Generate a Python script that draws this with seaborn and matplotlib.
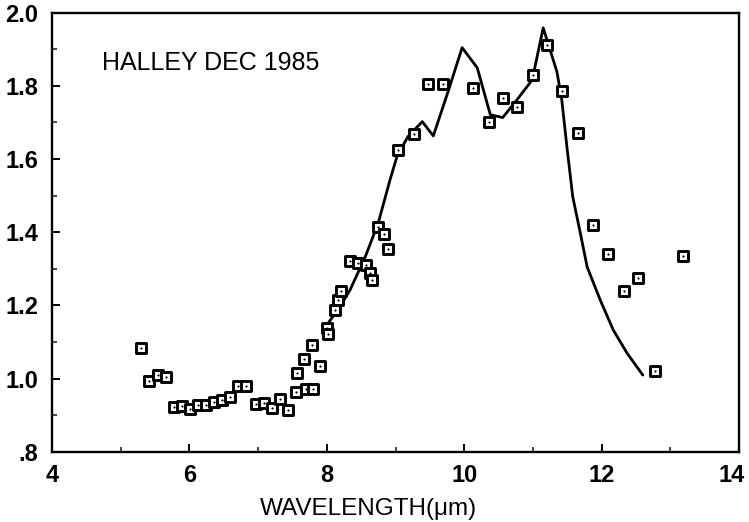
import numpy as np
import pandas as pd
import matplotlib
matplotlib.use("Agg")
import matplotlib.pyplot as plt
from matplotlib.ticker import MultipleLocator, FuncFormatter
from matplotlib.transforms import ScaledTranslation
import seaborn as sns

# Observed data points (wavelength in um, value)
obs_x = [5.30, 5.41, 5.54, 5.66, 5.78, 5.89, 6.01, 6.13, 6.24, 6.36, 6.47, 6.59,
         6.71, 6.82, 6.97, 7.09, 7.20, 7.32, 7.44, 7.55, 7.57, 7.67, 7.70, 7.80,
         7.78, 7.90, 8.00, 8.02, 8.12, 8.16, 8.21, 8.34, 8.45, 8.57, 8.63, 8.66,
         8.75, 8.83, 8.89, 9.04, 9.27, 9.47, 9.69, 10.13, 10.36, 10.56, 10.77,
         11.00, 11.21, 11.42, 11.66, 11.87, 12.09, 12.33, 12.53, 12.78, 13.18]
obs_y = [1.084, 0.994, 1.010, 1.005, 0.923, 0.926, 0.917, 0.928, 0.928, 0.937, 0.942, 0.950,
         0.980, 0.980, 0.931, 0.934, 0.920, 0.945, 0.915, 0.964, 1.016, 1.054, 0.972, 0.972,
         1.092, 1.035, 1.139, 1.122, 1.188, 1.215, 1.240, 1.322, 1.316, 1.310, 1.290, 1.270,
         1.415, 1.396, 1.355, 1.625, 1.669, 1.805, 1.805, 1.795, 1.700, 1.767, 1.743,
         1.830, 1.912, 1.786, 1.672, 1.420, 1.341, 1.240, 1.275, 1.021, 1.335]

# Model curve
model_x = [8.02, 8.19, 8.34, 8.56, 8.75, 8.92, 9.02, 9.18, 9.39, 9.55, 9.76, 9.97,
           10.19, 10.38, 10.56, 10.77, 10.99, 11.15, 11.35, 11.42, 11.50, 11.58,
           11.69, 11.79, 11.98, 12.17, 12.37, 12.60]
model_y = [1.152, 1.196, 1.243, 1.333, 1.426, 1.543, 1.606, 1.661, 1.702, 1.663, 1.781, 1.904,
           1.849, 1.721, 1.713, 1.762, 1.816, 1.958, 1.838, 1.762, 1.625, 1.497,
           1.398, 1.305, 1.215, 1.133, 1.070, 1.010]

title_text = "HALLEY DEC 1985"
x_label = "WAVELENGTH(\u03bcm)"

sns.set_theme(style="ticks")
plt.rcParams['font.family'] = ['Liberation Sans', 'DejaVu Sans']

fig = plt.figure(figsize=(7.49, 5.22), dpi=100)
ax = fig.add_axes([52/749, 1-452/522, (739-52)/749, (452-12.5)/522])

obs = pd.DataFrame({"x": obs_x, "y": obs_y})
mod = pd.DataFrame({"x": model_x, "y": model_y})

sns.lineplot(data=mod, x="x", y="y", ax=ax, color="black", lw=2.0, sort=False,
             estimator=None)
sns.scatterplot(data=obs, x="x", y="y", ax=ax, marker="s", s=46, facecolor="white",
                edgecolor="black", linewidth=2.1, zorder=3)
sns.scatterplot(data=obs, x="x", y="y", ax=ax, marker="o", s=2.5, color="black",
                linewidth=0, zorder=4)

ax.set_xlim(4, 14)
ax.set_ylim(0.8, 2.0)
ax.xaxis.set_major_locator(MultipleLocator(2))
ax.xaxis.set_minor_locator(MultipleLocator(1))
ax.yaxis.set_major_locator(MultipleLocator(0.2))
ax.yaxis.set_minor_locator(MultipleLocator(0.1))

def yfmt(v, pos):
    s = f"{v:.1f}"
    if s.startswith("0"):
        s = s[1:]
    return s

ax.yaxis.set_major_formatter(FuncFormatter(yfmt))
ax.xaxis.set_major_formatter(FuncFormatter(lambda v, p: f"{int(round(v))}"))

ax.tick_params(axis="both", which="major", direction="in", length=6, width=1.4,
               labelsize=17, colors="black", top=False, right=False)
ax.tick_params(axis="both", which="minor", direction="in", length=3.5, width=1.2,
               top=False, right=False)
ax.tick_params(axis="x", which="major", pad=9)
ax.tick_params(axis="y", which="major", pad=10)

for sp in ax.spines.values():
    sp.set_visible(True)
    sp.set_linewidth(1.7)
    sp.set_color("black")

ax.set_xlabel(x_label, fontsize=17.5, color="black")
ax.xaxis.set_label_coords(0.461, -0.105)
ax.set_ylabel("")

ax.text(4.73, 1.863, title_text, fontsize=18, va="center", ha="left", color="black")

fig.canvas.draw()
for lab in ax.get_xticklabels() + ax.get_yticklabels():
    lab.set_fontweight("bold")
for lab in ax.get_xticklabels():
    if lab.get_text() == "14":
        lab.set_transform(lab.get_transform() +
                          ScaledTranslation(-5/72, 0, fig.dpi_scale_trans))

fig.savefig("out.png", dpi=100)
